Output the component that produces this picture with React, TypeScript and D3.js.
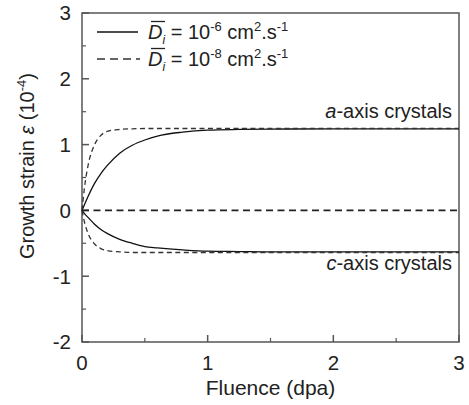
import React from 'react';
import * as d3 from 'd3';

// values
const fluence = [0, 0.02, 0.05, 0.1, 0.15, 0.2, 0.3, 0.4, 0.5, 0.6, 0.8, 1.0, 1.25, 1.5, 2.0, 2.5, 3.0];
const aSlow = [0, 0.09, 0.22, 0.41, 0.56, 0.68, 0.87, 0.99, 1.07, 1.13, 1.19, 1.22, 1.23, 1.235, 1.24, 1.24, 1.24];
const aFast = [0, 0.35, 0.7, 1.0, 1.14, 1.2, 1.23, 1.24, 1.245, 1.245, 1.245, 1.245, 1.245, 1.245, 1.245, 1.245, 1.245];
const cSlow = [0, -0.05, -0.11, -0.21, -0.29, -0.35, -0.44, -0.5, -0.55, -0.57, -0.6, -0.62, -0.625, -0.63, -0.63, -0.63, -0.63];
const cFast = [0, -0.18, -0.36, -0.51, -0.58, -0.61, -0.63, -0.64, -0.64, -0.64, -0.64, -0.64, -0.64, -0.64, -0.64, -0.64, -0.64];

const xTicks = [0, 1, 2, 3];
const xMinor = [0.5, 1.5, 2.5];
const yTicks = [-2, -1, 0, 1, 2, 3];
const yMinor = [-1.5, -0.5, 0.5, 1.5, 2.5];

const W = 469;
const H = 405;
const margin = { top: 13, right: 10, bottom: 63, left: 82 };
const font = 'Liberation Sans, Arial, sans-serif';

export default function App() {
  const x = d3.scaleLinear().domain([0, 3]).range([margin.left, W - margin.right]);
  const y = d3.scaleLinear().domain([-2, 3]).range([H - margin.bottom, margin.top]);

  const line = (vals: number[]) =>
    d3.line<number>()
      .x((_, i) => x(fluence[i]))
      .y(d => y(d))
      .curve(d3.curveMonotoneX)(vals) || '';

  const x0 = x(0), x1 = x(3), yb = y(-2), yt = y(3);
  const dashCurve = '5,3.5';

  return (
    <svg width={W} height={H} style={{ position: 'absolute', left: 0, top: 0, background: '#fff' }} fontFamily={font}>
      {/* frame */}
      <rect x={x0} y={yt} width={x1 - x0} height={yb - yt} fill="none" stroke="#555" strokeWidth={1.5} />

      {/* y ticks */}
      {yTicks.map(t => (
        <g key={'yt' + t}>
          <line x1={x0} x2={x0 + 7} y1={y(t)} y2={y(t)} stroke="#555" strokeWidth={1.5} />
          <text x={x0 - 11} y={y(t)} dy="0.36em" textAnchor="end" fontSize={20.5} fill="#222">{t}</text>
        </g>
      ))}
      {yMinor.map(t => (
        <line key={'ym' + t} x1={x0} x2={x0 + 4} y1={y(t)} y2={y(t)} stroke="#555" strokeWidth={1.2} />
      ))}

      {/* x ticks */}
      {xTicks.map(t => (
        <g key={'xt' + t}>
          <line x1={x(t)} x2={x(t)} y1={yb} y2={yb - 7} stroke="#555" strokeWidth={1.5} />
          <text x={x(t)} y={yb + 28} textAnchor="middle" fontSize={20.5} fill="#222">{t}</text>
        </g>
      ))}
      {xMinor.map(t => (
        <line key={'xm' + t} x1={x(t)} x2={x(t)} y1={yb} y2={yb - 4} stroke="#555" strokeWidth={1.2} />
      ))}

      {/* zero line */}
      <line x1={x(0)} x2={x(3)} y1={y(0)} y2={y(0)} stroke="#222" strokeWidth={1.6} strokeDasharray="7,4.5" />

      {/* curves */}
      <path d={line(aSlow)} fill="none" stroke="#111" strokeWidth={1.3} />
      <path d={line(cSlow)} fill="none" stroke="#111" strokeWidth={1.3} />
      <path d={line(aFast)} fill="none" stroke="#333" strokeWidth={1.3} strokeDasharray={dashCurve} />
      <path d={line(cFast)} fill="none" stroke="#333" strokeWidth={1.3} strokeDasharray={dashCurve} />

      {/* annotations */}
      <text x={452} y={118} textAnchor="end" fontSize={20} fill="#222">
        <tspan fontStyle="italic">a</tspan>-axis crystals
      </text>
      <text x={452} y={270} textAnchor="end" fontSize={20} fill="#222">
        <tspan fontStyle="italic">c</tspan>-axis crystals
      </text>

      {/* legend */}
      <line x1={97} x2={138} y1={32} y2={32} stroke="#111" strokeWidth={1.3} />
      <line x1={97} x2={140} y1={59} y2={59} stroke="#333" strokeWidth={1.3} strokeDasharray="8,5" />
      {[32, 59].map((ly, k) => (
        <g key={'lg' + k}>
          <line x1={151} x2={165} y1={ly - 10.5} y2={ly - 10.5} stroke="#222" strokeWidth={1.3} />
          <text x={148} y={ly + 7} fontSize={20} fill="#222">
            <tspan fontStyle="italic">D</tspan>
            <tspan fontStyle="italic" fontSize={12} dy={5}>i</tspan>
            <tspan dy={-5}> = 10</tspan>
            <tspan fontSize={13} dy={-8}>{k === 0 ? '-6' : '-8'}</tspan>
            <tspan dy={8}> cm</tspan>
            <tspan fontSize={13} dy={-8}>2</tspan>
            <tspan dy={8}>.s</tspan>
            <tspan fontSize={13} dy={-8}>-1</tspan>
          </text>
        </g>
      ))}

      {/* axis labels */}
      <text x={(x0 + x1) / 2} y={395} textAnchor="middle" fontSize={21} fill="#222">Fluence (dpa)</text>
      <text transform={`translate(34,166) rotate(-90)`} textAnchor="middle" fontSize={20} fill="#222">
        Growth strain <tspan fontStyle="italic">ε</tspan> (10<tspan fontSize={13} dy={-8}>-4</tspan><tspan dy={8}>)</tspan>
      </text>
    </svg>
  );
}
